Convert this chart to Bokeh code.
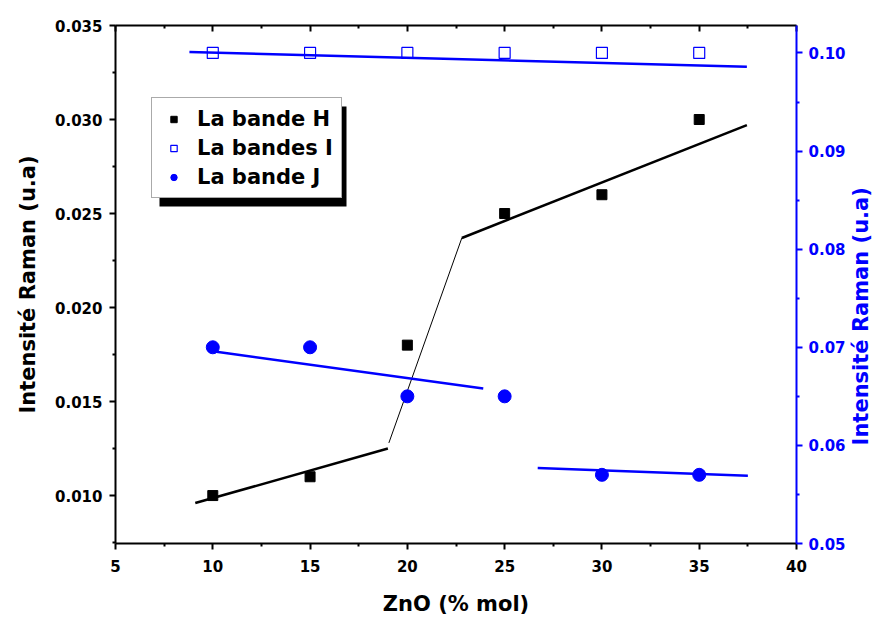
import math
from bokeh.plotting import figure
from bokeh.models import (Range1d, LinearAxis, FixedTicker, PrintfTickFormatter,
                          Legend, LegendItem, BoxAnnotation)
from bokeh.embed import file_html
from bokeh.resources import INLINE

# ---- data ----
zno = [10, 15, 20, 25, 30, 35]
bande_h = [0.010, 0.011, 0.018, 0.025, 0.026, 0.030]
bandes_i = [0.100, 0.100, 0.100, 0.100, 0.100, 0.100]
bande_j = [0.070, 0.070, 0.065, 0.065, 0.057, 0.057]

# fitted line segments
h_fit1_x = [9.1, 19.0]
h_fit1_y = [0.0096, 0.0125]
h_link_x = [19.05, 22.8]
h_link_y = [0.0128, 0.0237]
h_fit2_x = [22.8, 37.45]
h_fit2_y = [0.0237, 0.0297]
i_fit_x = [8.8, 37.45]
i_fit_y = [0.1001, 0.0986]
j_fit1_x = [10.0, 23.9]
j_fit1_y = [0.0696, 0.0658]
j_fit2_x = [26.7, 37.5]
j_fit2_y = [0.0577, 0.0569]

x_ticks = [5, 10, 15, 20, 25, 30, 35, 40]
x_minor = [7.5, 12.5, 17.5, 22.5, 27.5, 32.5, 37.5]
yl_ticks = [0.010, 0.015, 0.020, 0.025, 0.030, 0.035]
yl_minor = [0.0075, 0.0125, 0.0175, 0.0225, 0.0275, 0.0325]
yr_ticks = [0.05, 0.06, 0.07, 0.08, 0.09, 0.10]
yr_minor = [0.055, 0.065, 0.075, 0.085, 0.095]

FONT = "DejaVu Sans"
BLUE = "#0000ff"
RIGHT_TITLE = "Intensité Raman  (u.a)"
RIGHT_TITLE_START = 0.06  # where the rotated right title begins (right-axis units)

p = figure(width=888, height=621, output_backend="svg", toolbar_location=None,
           x_range=Range1d(5, 40), y_range=Range1d(0.00745, 0.035),
           min_border_left=115, min_border_right=88, min_border_top=25,
           min_border_bottom=78, x_axis_location=None, y_axis_location=None)
p.extra_y_ranges = {"right": Range1d(0.05, 0.1028)}
p.grid.visible = False
p.outline_line_color = None
p.background_fill_color = "white"


def style(ax, color, tick_out=6, minor_out=3, tick_in=0, minor_in=0):
    ax.axis_line_color = color
    ax.axis_line_width = 2
    ax.major_tick_line_color = color
    ax.minor_tick_line_color = color
    ax.major_tick_line_width = 2
    ax.minor_tick_line_width = 2
    ax.major_tick_out = tick_out
    ax.major_tick_in = tick_in
    ax.minor_tick_out = minor_out
    ax.minor_tick_in = minor_in
    ax.major_label_text_font = FONT
    ax.major_label_text_font_style = "bold"
    ax.major_label_text_font_size = "15px"
    ax.major_label_text_color = color
    ax.axis_label_text_font = FONT
    ax.axis_label_text_font_style = "bold"
    ax.axis_label_text_font_size = "21px"
    ax.axis_label_text_color = color


xb = LinearAxis(ticker=FixedTicker(ticks=x_ticks, minor_ticks=x_minor),
                axis_label="ZnO (% mol)")
style(xb, "black")
xb.major_label_standoff = 10
xb.axis_label_standoff = 17
p.add_layout(xb, "below")

# top frame: ticks pointing inward, no labels (only minor ticks used)
xt1 = LinearAxis(ticker=FixedTicker(ticks=[], minor_ticks=x_ticks))
style(xt1, "black", tick_out=0, minor_out=0, tick_in=0, minor_in=6)
p.add_layout(xt1, "above")
xt2 = LinearAxis(ticker=FixedTicker(ticks=[], minor_ticks=x_minor))
style(xt2, "black", tick_out=0, minor_out=0, tick_in=0, minor_in=3)
xt2.axis_line_color = None
p.add_layout(xt2, "above")

yl = LinearAxis(ticker=FixedTicker(ticks=yl_ticks, minor_ticks=yl_minor),
                formatter=PrintfTickFormatter(format="%.3f"),
                axis_label="Intensité Raman (u.a)")
style(yl, "black")
yl.major_label_standoff = 7
yl.axis_label_standoff = 12
p.add_layout(yl, "left")

yr = LinearAxis(y_range_name="right",
                ticker=FixedTicker(ticks=yr_ticks, minor_ticks=yr_minor),
                formatter=PrintfTickFormatter(format="%.2f"))
style(yr, BLUE)
yr.major_label_standoff = 6
p.add_layout(yr, "right")

# right axis title (reads bottom to top), drawn as a rotated label of a bare axis
yt = LinearAxis(y_range_name="right",
                ticker=FixedTicker(ticks=[RIGHT_TITLE_START], minor_ticks=[]),
                major_label_overrides={RIGHT_TITLE_START: RIGHT_TITLE})
style(yt, BLUE, tick_out=0, minor_out=0)
yt.axis_line_color = None
yt.major_tick_line_color = None
yt.minor_tick_line_color = None
yt.major_label_text_font_size = "21px"
yt.major_label_orientation = math.pi / 2
yt.major_label_standoff = 13
p.add_layout(yt, "right")

# fit lines
p.line(h_fit1_x, h_fit1_y, line_color="black", line_width=2.5)
p.line(h_link_x, h_link_y, line_color="black", line_width=1)
p.line(h_fit2_x, h_fit2_y, line_color="black", line_width=2.5)
p.line(i_fit_x, i_fit_y, line_color=BLUE, line_width=2.5, y_range_name="right")
p.line(j_fit1_x, j_fit1_y, line_color=BLUE, line_width=2.5, y_range_name="right")
p.line(j_fit2_x, j_fit2_y, line_color=BLUE, line_width=2.5, y_range_name="right")

# points
rh = p.scatter(zno, bande_h, marker="square", size=10, fill_color="black",
               line_color="black")
ri = p.scatter(zno, bandes_i, marker="square", size=11, fill_color=None,
               line_color=BLUE, line_width=1.2, y_range_name="right")
rj = p.scatter(zno, bande_j, marker="circle", size=13, fill_color=BLUE,
               line_color=BLUE, y_range_name="right")

# legend shadow
shadow = BoxAnnotation(left=159, right=346, top=106, bottom=206,
                       left_units="canvas", right_units="canvas",
                       top_units="canvas", bottom_units="canvas",
                       fill_color="black", fill_alpha=1, line_color=None)
p.add_layout(shadow)

legend = Legend(items=[LegendItem(label="La bande H", renderers=[rh]),
                       LegendItem(label="La bandes I", renderers=[ri]),
                       LegendItem(label="La bande J", renderers=[rj])],
                location=(36, 345), padding=8, spacing=4,
                glyph_width=27, glyph_height=16, label_height=25,
                label_standoff=10, margin=0,
                label_text_font=FONT, label_text_font_style="bold",
                label_text_font_size="21px", label_text_color="black",
                border_line_color="#555555", border_line_width=1,
                background_fill_color="white", background_fill_alpha=1)
p.add_layout(legend)

open("out.html", "w").write(file_html(p, INLINE))
